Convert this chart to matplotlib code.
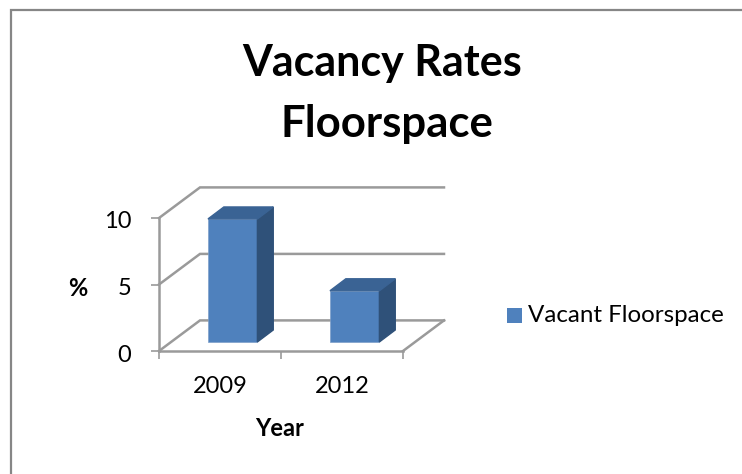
import matplotlib
matplotlib.use("Agg")
import matplotlib.pyplot as plt
from matplotlib.lines import Line2D
from matplotlib.patches import Polygon, Rectangle
from matplotlib.transforms import ScaledTranslation

categories = ["2009", "2012"]
vacant = [9.25, 3.85]
y_ticks = [0, 5, 10]

GREY = "#9a9a9a"
FRONT = "#4f81bd"
SIDE = "#2f5179"
TOP = "#3a6394"

plt.rcParams["font.family"] = ["Lato", "DejaVu Sans"]

W, H = 742, 474
fig = plt.figure(figsize=(W / 100, H / 100), dpi=100)
fig.patch.set_facecolor("white")

# outer frame, only left and top are in the picture
fig.add_artist(Line2D([10.5 / W, 10.5 / W, 1], [0, 1 - 10 / H, 1 - 10 / H], transform=fig.transFigure,
                      color="#868686", lw=1.6, solid_joinstyle="miter"))

# axes box is the front plane of the fake 3d chart
ax = fig.add_axes([159 / W, 1 - 351 / H, 244 / W, 133 / H])
ax.set_xlim(0, len(categories))
ax.set_ylim(0, 10)
ax.patch.set_visible(False)

# depth of the floor, in data units
depth_x = 0.336
depth_y = 2.3

for t in y_ticks:
    ax.plot([0, depth_x, len(categories) + depth_x], [t, t + depth_y, t + depth_y],
            color=GREY, lw=1.8, clip_on=False, zorder=1, solid_joinstyle="miter")
ax.plot([len(categories), len(categories) + depth_x], [0, depth_y], color=GREY, lw=1.8, clip_on=False, zorder=1)

bar_w = 0.405
bar_dx = 0.13
bar_dy = 0.9
base_dx = 0.104
base_dy = 0.68
for i, v in enumerate(vacant):
    left = i + 0.5 - bar_w / 2 + base_dx
    ax.bar(left, v, bar_w, bottom=base_dy, align="edge", color=FRONT, zorder=3,
           edgecolor="#7d9fc9", linewidth=0.5, clip_on=False)
    right = left + bar_w
    top = base_dy + v
    ax.add_patch(Polygon([(right, base_dy), (right + bar_dx, base_dy + bar_dy),
                          (right + bar_dx, top + bar_dy), (right, top)],
                         color=SIDE, zorder=3, clip_on=False))
    ax.add_patch(Polygon([(left, top), (left + bar_dx, top + bar_dy),
                          (right + bar_dx, top + bar_dy), (right, top)],
                         color=TOP, zorder=3, clip_on=False))

for s in ["top", "right"]:
    ax.spines[s].set_visible(False)
for s in ["left", "bottom"]:
    ax.spines[s].set_color(GREY)
    ax.spines[s].set_linewidth(1.8)
    ax.spines[s].set_zorder(2)

ax.set_yticks(y_ticks)
ax.set_xticks(range(len(categories) + 1))
ax.set_xticklabels([])
ax.set_xticks([i + 0.5 for i in range(len(categories))], categories, minor=True)
ax.tick_params(axis="both", which="major", color=GREY, width=1.2, length=6, labelsize=17, labelcolor="black")
ax.tick_params(axis="y", pad=14)
ax.tick_params(axis="x", which="minor", length=0, labelsize=17, pad=18)

# y labels sit a little below their ticks in the original
shift = ScaledTranslation(0, -2 / 100, fig.dpi_scale_trans)
for lab in ax.get_yticklabels():
    lab.set_transform(lab.get_transform() + shift)

fig.text(382 / W, 1 - 63 / H, "Vacancy Rates", fontsize=31, fontweight="bold", ha="center", va="center")
fig.text(387 / W, 1 - 124 / H, "Floorspace", fontsize=31.5, fontweight="bold", ha="center", va="center")
fig.text(78 / W, 1 - 288 / H, "%", fontsize=17, fontweight="bold", ha="center", va="center")
fig.text(280 / W, 1 - 428 / H, "Year", fontsize=17, fontweight="bold", ha="center", va="center")

# legend
fig.add_artist(Rectangle((507 / W, 1 - 323 / H), 15 / W, 15 / H, transform=fig.transFigure,
                         facecolor=FRONT, edgecolor="none"))
fig.text(528 / W, 1 - 315 / H, "Vacant Floorspace", fontsize=17.4, ha="left", va="center")

fig.savefig("out.png", dpi=100)
